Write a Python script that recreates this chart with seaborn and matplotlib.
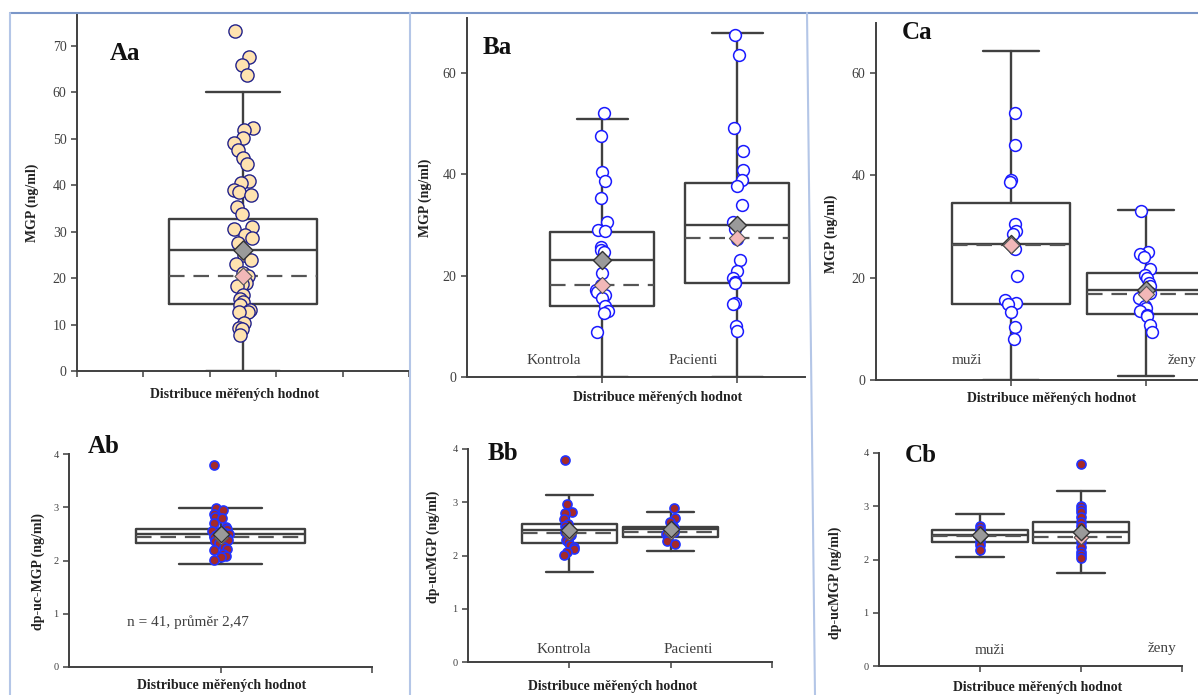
import numpy as np
import pandas as pd
import matplotlib.pyplot as plt
import seaborn as sns
from matplotlib.lines import Line2D

# MGP values (ng/ml)
aa_mgp = [73.2, 67.6, 65.9, 63.7, 52.4, 52.0, 50.1, 49.1, 47.6, 45.8, 44.6, 40.9, 40.4,
          39.0, 38.6, 37.9, 35.4, 33.9, 31.1, 30.6, 29.2, 28.6, 27.5, 25.0, 23.9, 23.0,
          21.0, 20.4, 19.0, 18.7, 18.3, 16.4, 15.5, 14.8, 14.2, 13.1, 12.8, 12.6, 10.3,
          9.2, 9.0, 7.8]
ba_kontrola = [52.1, 47.6, 40.4, 38.7, 35.4, 30.6, 29.1, 28.8, 25.7, 25.1, 24.7, 20.6,
               18.1, 17.1, 16.7, 16.1, 15.6, 14.0, 13.1, 12.7, 8.9]
ba_pacienti = [67.6, 63.6, 49.1, 44.6, 40.9, 38.9, 37.8, 33.9, 30.7, 29.3, 27.3, 23.2,
               21.0, 19.6, 18.8, 18.6, 14.7, 14.5, 10.0, 9.1]
ca_muzi = [52.2, 45.9, 39.1, 38.8, 30.5, 29.2, 28.5, 25.6, 20.4, 15.7, 15.0, 14.8, 13.2,
           10.4, 8.0]
ca_zeny = [33.1, 25.1, 24.6, 24.0, 21.7, 20.5, 20.0, 18.9, 18.3, 17.0, 16.1, 14.4, 14.0,
           13.4, 12.7, 12.6, 10.8, 9.3]

# dp-ucMGP values (ng/ml)
ab_ucmgp = [3.79, 2.99, 2.94, 2.88, 2.82, 2.80, 2.70, 2.62, 2.59, 2.56, 2.55, 2.52, 2.50,
            2.47, 2.44, 2.42, 2.39, 2.36, 2.32, 2.26, 2.22, 2.20, 2.12, 2.09, 2.06, 2.01]
bb_kontrola = [3.79, 2.97, 2.82, 2.79, 2.69, 2.60, 2.55, 2.50, 2.45, 2.41, 2.39, 2.35,
               2.30, 2.25, 2.20, 2.16, 2.12, 2.06, 2.01]
bb_pacienti = [2.89, 2.70, 2.62, 2.56, 2.52, 2.48, 2.44, 2.40, 2.36, 2.31, 2.27, 2.22]
cb_muzi = [2.62, 2.57, 2.52, 2.46, 2.40, 2.33, 2.27, 2.18]
cb_zeny = [3.79, 3.00, 2.95, 2.90, 2.80, 2.71, 2.62, 2.52, 2.43, 2.33, 2.24, 2.15, 2.08,
           2.02]

# box stats: quartiles, median (solid), whiskers, dashed line (mean)
aa_stats = dict(q1=[14.5], med=[26.0], q3=[32.7], lo=[0.0], hi=[60.0], mean=[20.5])
ba_stats = dict(q1=[14.0, 18.6], med=[23.1, 30.1], q3=[28.7, 38.4], lo=[0.0, 0.0],
                hi=[51.0, 67.9], mean=[18.1, 27.5])
ca_stats = dict(q1=[14.9, 13.0], med=[26.6, 17.6], q3=[34.7, 21.0], lo=[0.0, 0.85],
                hi=[64.4, 33.3], mean=[26.3, 16.8])
ab_stats = dict(q1=[2.32], med=[2.50], q3=[2.59], lo=[1.93], hi=[2.98], mean=[2.45])
bb_stats = dict(q1=[2.23, 2.35], med=[2.47, 2.49], q3=[2.59, 2.54], lo=[1.69, 2.08],
                hi=[3.14, 2.82], mean=[2.42, 2.44])
cb_stats = dict(q1=[2.33, 2.31], med=[2.46, 2.52], q3=[2.55, 2.71], lo=[2.04, 1.74],
                hi=[2.85, 3.29], mean=[2.45, 2.43])

xlab = "Distribuce měřených hodnot"
LINE = "#404040"

sns.set_style("ticks")
plt.rcParams["font.family"] = ["Liberation Serif", "DejaVu Serif"]
plt.rcParams["axes.edgecolor"] = LINE
plt.rcParams["axes.linewidth"] = 1.4

W, H = 1198, 695
fig = plt.figure(figsize=(W / 100, H / 100), dpi=100)


def rect(left, right, top, bottom):
    return [left / W, 1 - bottom / H, (right - left) / W, (bottom - top) / H]


def boxes(ax, st, pos, width, capw):
    stats = []
    for i in range(len(pos)):
        stats.append(dict(q1=st["q1"][i], med=st["med"][i], q3=st["q3"][i],
                          whislo=st["lo"][i], whishi=st["hi"][i], mean=st["mean"][i],
                          fliers=[]))
    lp = dict(color=LINE, lw=1.7)
    ax.bxp(stats, positions=pos, widths=width, capwidths=capw, showmeans=True,
           meanline=True, showfliers=False, boxprops=lp, medianprops=lp,
           whiskerprops=lp, capprops=lp,
           meanprops=dict(color="#555555", lw=1.6, ls=(0, (7, 4))),
           manage_ticks=False, zorder=1)


def points(ax, groups, pos, jitter, **kw):
    df = pd.DataFrame({"x": np.concatenate([[p] * len(g) for p, g in zip(pos, groups)]),
                       "y": np.concatenate(groups)})
    sns.stripplot(data=df, x="x", y="y", native_scale=True, orient="v",
                  jitter=jitter, ax=ax, zorder=3, **kw)


def diamonds(ax, st, pos, size, pink_on_top=True):
    gray = dict(marker="D", s=size, color="#9a9a9a", edgecolor="#333333", lw=1, zorder=5)
    pink = dict(marker="D", s=size * 0.8, color="#f2b8b8", edgecolor="#555555", lw=0.8,
                zorder=6 if pink_on_top else 4)
    ax.scatter(pos, st["med"], **gray)
    ax.scatter(pos, st["mean"], **pink)


def style(ax, xlim, ylim, yticks, xticks, tick_fs, ylabel, ylab_xy, xlab_xy, tag, tag_xy):
    sns.despine(ax=ax)
    ax.set_xlim(*xlim)
    ax.set_ylim(*ylim)
    ax.set_yticks(yticks)
    ax.set_xticks(xticks)
    ax.set_xticklabels([])
    ax.tick_params(direction="out", length=4, width=1.1, color=LINE,
                   labelcolor=LINE, labelsize=tick_fs)
    ax.set_ylabel(ylabel, fontsize=10, fontweight="bold", color="#222222", va="center")
    ax.yaxis.set_label_coords(*ylab_xy)
    ax.set_xlabel(xlab, fontsize=10, fontweight="bold", color="#222222", va="center")
    ax.xaxis.set_label_coords(*xlab_xy)
    ax.text(tag_xy[0], tag_xy[1], tag, transform=ax.transAxes, fontsize=18,
            fontweight="bold", ha="left", va="center", color="#111111")


np.random.seed(7)

# Aa
ax = fig.add_axes(rect(77, 409, 13, 371))
boxes(ax, aa_stats, [2.5], 2.24, [1.1])
points(ax, [aa_mgp], [2.5], 0.15, size=9.5, color="#ffe3b0", edgecolor="#22228a",
       linewidth=1)
diamonds(ax, aa_stats, [2.5], 95)
style(ax, (0, 5), (0, 77.1), range(0, 71, 10), range(0, 6), 10, "MGP (ng/ml)",
      (-0.136, 0.47), (0.476, -0.067), "Aa", (0.10, 0.888))

# Ba
ax = fig.add_axes(rect(467, 805, 18, 377))
boxes(ax, ba_stats, [1, 2], 0.77, [0.38, 0.38])
points(ax, [ba_kontrola, ba_pacienti], [1, 2], 0.045, size=8.5, color="white",
       edgecolor="#1a1aff", linewidth=1.1)
diamonds(ax, ba_stats, [1, 2], 85)
style(ax, (0, 2.5), (0, 70.9), [0, 20, 40, 60], [1, 2], 10, "MGP (ng/ml)",
      (-0.124, 0.50), (0.565, -0.056), "Ba", (0.047, 0.919))
ax.text(0.64, 3.2, "Kontrola", ha="center", va="center", fontsize=11, color=LINE)
ax.text(1.67, 3.2, "Pacienti", ha="center", va="center", fontsize=11, color=LINE)

# Ca
ax = fig.add_axes(rect(876, 1213.5, 23, 380))
boxes(ax, ca_stats, [1, 2], 0.88, [0.42, 0.42])
points(ax, [ca_muzi, ca_zeny], [1, 2], 0.05, size=8.5, color="white",
       edgecolor="#1a1aff", linewidth=1.1)
diamonds(ax, ca_stats, [1, 2], 85)
style(ax, (0, 2.5), (0, 69.8), [0, 20, 40, 60], [1, 2], 10, "MGP (ng/ml)",
      (-0.133, 0.41), (0.52, -0.053), "Ca", (0.077, 0.972))
ax.text(0.67, 3.8, "muži", ha="center", va="center", fontsize=11, color=LINE)
ax.text(2.16, 3.8, "ženy", ha="left", va="center", fontsize=11, color=LINE)

# Ab
ax = fig.add_axes(rect(69, 372, 454, 667))
boxes(ax, ab_stats, [1], 1.12, [0.55])
diamonds(ax, ab_stats, [1], 70, pink_on_top=False)
points(ax, [ab_ucmgp], [1], 0.06, size=6.5, color="#a52a2a", edgecolor="#2233ff",
       linewidth=1.2)
style(ax, (0, 2), (0, 4), range(0, 5), [1, 2], 7.5, "dp-uc-MGP (ng/ml)",
      (-0.10, 0.45), (0.505, -0.085), "Ab", (0.063, 1.033))
ax.text(0.38, 0.85, "n = 41, průměr 2,47", ha="left", va="center", fontsize=11,
        color=LINE)

# Bb
ax = fig.add_axes(rect(468, 772, 449, 662))
boxes(ax, bb_stats, [1, 2], 0.94, [0.46, 0.46])
diamonds(ax, bb_stats, [1, 2], 70, pink_on_top=False)
points(ax, [bb_kontrola, bb_pacienti], [1, 2], 0.05, size=6.5, color="#a52a2a",
       edgecolor="#2233ff", linewidth=1.2)
style(ax, (0, 3), (0, 4), range(0, 5), [1, 2, 3], 7.5, "dp-ucMGP (ng/ml)",
      (-0.115, 0.54), (0.477, -0.117), "Bb", (0.066, 0.98))
ax.text(0.95, 0.24, "Kontrola", ha="center", va="center", fontsize=11, color=LINE)
ax.text(2.17, 0.24, "Pacienti", ha="center", va="center", fontsize=11, color=LINE)

# Cb
ax = fig.add_axes(rect(879, 1182, 453, 666))
boxes(ax, cb_stats, [1, 2], 0.95, [0.47, 0.47])
points(ax, [cb_muzi, cb_zeny], [1, 2], 0, size=6.5, color="#a52a2a",
       edgecolor="#2233ff", linewidth=1.2)
diamonds(ax, cb_stats, [1, 2], 70, pink_on_top=False)
style(ax, (0, 3), (0, 4), range(0, 5), [1, 2, 3], 7.5, "dp-ucMGP (ng/ml)",
      (-0.145, 0.39), (0.525, -0.099), "Cb", (0.086, 0.99))
ax.text(1.1, 0.30, "muži", ha="center", va="center", fontsize=11, color=LINE)
ax.text(2.8, 0.33, "ženy", ha="center", va="center", fontsize=11, color=LINE)

# light blue panel frames
for x0, y0, x1, y1, c in [(10, 13, 1198, 13, "#7a96c8"), (10, 13, 10, 695, "#b4c6e7"),
                          (410, 13, 410, 695, "#b4c6e7"), (807, 13, 815, 695, "#b4c6e7")]:
    fig.add_artist(Line2D([x0 / W, x1 / W], [1 - y0 / H, 1 - y1 / H], color=c, lw=1.5,
                          transform=fig.transFigure))

fig.savefig("out.png", dpi=100)
